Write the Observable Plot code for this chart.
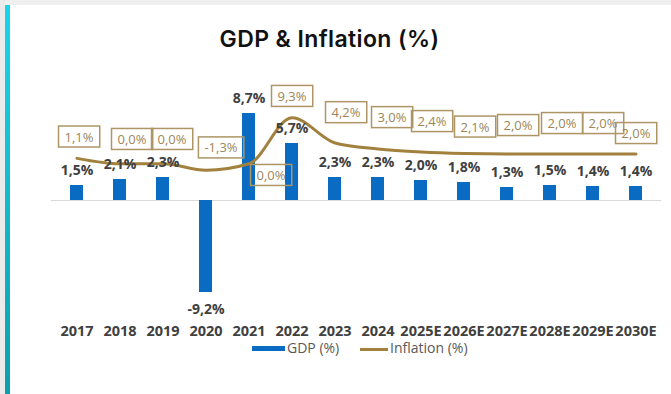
<!DOCTYPE html>
<html>
<head>
<meta charset="utf-8">
<script src="https://cdn.jsdelivr.net/npm/d3@7"></script>
<script src="https://cdn.jsdelivr.net/npm/@observablehq/plot@0.6"></script>
<style>
  html, body { margin: 0; padding: 0; background: #fff; }
  #wrap { position: relative; width: 671px; height: 394px; overflow: hidden; background: #fff; }
  #chart { position: absolute; left: 0; top: 0; }
  #topstrip { position: absolute; left: 0; top: 0; width: 671px; height: 5px; background: #efefef; z-index: 3; }
  #leftstrip { position: absolute; left: 0; top: 0; width: 5px; height: 394px; background: #ebebeb; z-index: 3; }
  #accent { position: absolute; left: 5px; top: 5px; width: 5px; height: 389px; z-index: 4;
            background: linear-gradient(#1ad4ec, #0c9fae); }
  #title { position: absolute; left: 0; top: 28px; width: 659px; text-align: center; letter-spacing: 0.4px;
           font-family: Inter, Roboto, sans-serif; font-weight: 600; font-size: 23px; line-height: 23px; color: #111; z-index: 2; }
  .lg { position: absolute; font-family: "Open Sans", sans-serif; font-size: 14px; line-height: 16px; color: #595959; z-index: 2; white-space: nowrap; }
  .sw { position: absolute; z-index: 2; }
</style>
</head>
<body>
<div id="wrap">
  <div id="chart"></div>
  <div id="topstrip"></div>
  <div id="leftstrip"></div>
  <div id="accent"></div>
  <div id="title">GDP &amp; Inflation (%)</div>
  <div class="sw" style="left:252px;top:346px;width:33px;height:5px;background:#0a6bc2"></div>
  <div class="lg" style="left:287px;top:340px">GDP (%)</div>
  <div class="sw" style="left:360px;top:348px;width:28px;height:3px;background:#a2803e"></div>
  <div class="lg" style="left:390px;top:340px">Inflation (%)</div>
</div>
<script>
// ---- data ----
const years = ["2017","2018","2019","2020","2021","2022","2023","2024","2025E","2026E","2027E","2028E","2029E","2030E"];
const gdp = [1.5, 2.1, 2.3, -9.2, 8.7, 5.7, 2.3, 2.3, 2.0, 1.8, 1.3, 1.5, 1.4, 1.4];
const inflation = [1.1, 0.0, 0.0, -1.3, 0.0, 9.3, 4.2, 3.0, 2.4, 2.1, 2.0, 2.0, 2.0, 2.0];

// ---- layout (secondary axis mapping & label nudges, pixels) ----
const inflAxis = { zero: 3.67, ratio: 0.495 }; // inflation value -> primary (GDP) axis units
const inflLabelNudge = [[2,-21],[12,-24],[9,-24],[15,-22],[22,12],[0,-21],[11,-30],[14,-31],[11,-30],[11,-26],[11,-28],[12,-30],[10,-30],[0,-20]];

const rows = years.map((year, i) => ({ year, gdp: gdp[i], inflation: inflation[i], i }));
const fmt = v => d3.format(".1f")(v).replace("\u2212", "-").replace(".", ",") + "%";
const inflY = d => inflAxis.zero + inflAxis.ratio * d.inflation;

const BLUE = "#0a6bc2", GOLD = "#a2803e";

const inflLabelMarks = rows.map((d, i) => Plot.text([d], {
  x: "year", y: inflY, text: r => fmt(r.inflation),
  dx: inflLabelNudge[i][0], dy: inflLabelNudge[i][1],
  fill: "#9c8658", fontSize: 13, fontFamily: "Open Sans", fontWeight: 400,
  ariaDescription: "infl-label"
}));

const plot = Plot.plot({
  width: 671, height: 394,
  marginTop: 80, marginBottom: 94, marginLeft: 51, marginRight: 10,
  style: { background: "transparent", overflow: "visible" },
  x: { type: "band", domain: years, paddingInner: 0.69, paddingOuter: 0.345, axis: null },
  y: { domain: [-10, 12], axis: null },
  marks: [
    Plot.ruleY([0], { stroke: "#d9d9d9", strokeWidth: 1 }),
    Plot.barY(rows, { x: "year", y: "gdp", fill: BLUE }),
    Plot.lineY(rows, { x: "year", y: inflY, stroke: GOLD, strokeWidth: 3, curve: "monotone-x" }),
    Plot.text(rows.filter(d => d.gdp >= 0), { x: "year", y: "gdp", text: d => fmt(d.gdp), dy: -15,
      fill: "#404040", fontSize: 14, fontWeight: 700, fontFamily: "Open Sans" }),
    Plot.text(rows.filter(d => d.gdp < 0), { x: "year", y: "gdp", text: d => fmt(d.gdp), dy: 17,
      fill: "#404040", fontSize: 14, fontWeight: 700, fontFamily: "Open Sans" }),
    ...inflLabelMarks,
    Plot.axisX({ anchor: "bottom", tickSize: 0, tickPadding: 25, fontSize: 14.5, fontWeight: 700,
      fontFamily: "Open Sans", color: "#404040", label: null })
  ]
});
document.getElementById("chart").appendChild(plot);

// draw boxes round inflation labels
plot.querySelectorAll('g[aria-description="infl-label"] text').forEach(t => {
  const b = t.getBBox();
  const w = b.width + 12, h = 21;
  const cx = b.x + b.width / 2, cy = b.y + b.height / 2;
  const r = document.createElementNS("http://www.w3.org/2000/svg", "rect");
  r.setAttribute("x", cx - w / 2);
  r.setAttribute("y", cy - h / 2);
  r.setAttribute("width", w);
  r.setAttribute("height", h);
  r.setAttribute("fill", "none");
  r.setAttribute("stroke", "#ad9566");
  r.setAttribute("stroke-width", 1.5);
  if (t.getAttribute("transform")) r.setAttribute("transform", t.getAttribute("transform"));
  t.parentNode.insertBefore(r, t);
});
</script>
</body>
</html>
